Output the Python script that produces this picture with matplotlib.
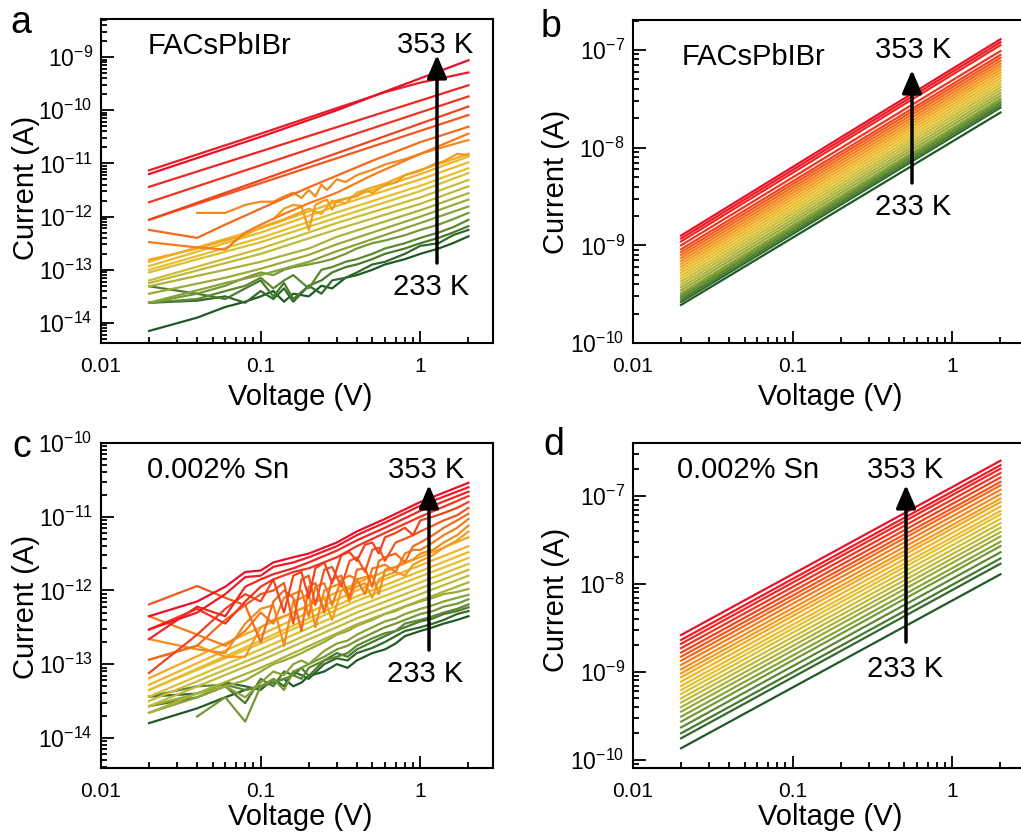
import numpy as np
import matplotlib
matplotlib.use("Agg")
import matplotlib.pyplot as plt
from matplotlib.colors import LinearSegmentedColormap
from matplotlib.ticker import LogLocator, NullFormatter, FuncFormatter, FixedLocator
from matplotlib.patches import FancyArrowPatch

plt.rcParams['font.family'] = ['Liberation Sans', 'DejaVu Sans']
plt.rcParams['mathtext.fontset'] = 'custom'
plt.rcParams['mathtext.rm'] = 'Liberation Sans'
plt.rcParams['mathtext.it'] = 'Liberation Sans:italic'
plt.rcParams['mathtext.bf'] = 'Liberation Sans:bold'

# temperatures, first entry = top curve (353 K), last = bottom curve (233 K)
temps = [353, 348, 343, 338, 333, 328, 323, 318, 313, 308, 303, 298, 293,
         288, 283, 278, 273, 268, 263, 258, 253, 248, 243, 238, 233]

# all currents below are stored as log10(I / A)
V_END = [0.02, 2.0]
V_RED = [0.02, 0.1, 0.3, 0.6, 1.0, 2.0]
V_YEL = [0.02, 0.1, 0.3, 1.0, 2.0]
V_YG = [0.02, 0.06, 0.1, 0.2, 0.3, 1.0, 2.0]
V_GN = [0.02, 0.04, 0.06, 0.08, 0.1, 0.12, 0.14, 0.16, 0.2, 0.24, 0.28, 0.34,
        0.4, 0.5, 0.6, 0.8, 1.0, 1.3, 1.6, 2.0]

# ---- panel a: FACsPbIBr, dark current
a_volts = [
    V_RED, V_RED, V_END, V_END, V_END, V_END,
    [0.02, 0.04, 0.06, 0.1, 0.2, 0.5, 1.0, 2.0],
    [0.02, 0.04, 0.06, 0.08, 0.1, 0.14, 0.2, 0.3, 0.5, 1.0, 2.0],
    [0.04, 0.06, 0.08, 0.1, 0.12, 0.14, 0.16, 0.18, 0.2, 0.22, 0.24, 0.26, 0.3,
     0.34, 0.4, 0.5, 0.6, 0.8, 1.0, 1.3, 1.6, 2.0],
    [0.12, 0.14, 0.16, 0.18, 0.2, 0.22, 0.24, 0.26, 0.28, 0.3, 0.34, 0.4, 0.46,
     0.5, 0.6, 0.7, 0.8, 1.0, 1.2, 1.4, 1.7, 2.0],
    [0.02, 0.04, 0.06, 0.08, 0.1, 0.14, 0.2, 0.24, 0.28, 0.34, 0.4, 0.5, 0.6,
     0.8, 1.0, 1.4, 2.0],
    V_YEL, V_YEL, V_YEL, V_YEL, V_YEL, V_YEL,
    V_YG, V_YG, V_YG,
    V_GN, V_GN, V_GN, V_GN, V_GN,
]
a_logI = [
    [-11.20, -10.50, -10.00, -9.65, -9.40, -9.06],
    [-11.13, -10.44, -9.96, -9.66, -9.48, -9.29],
    [-11.44, -9.53],
    [-11.73, -9.74],
    [-12.06, -9.93],
    [-12.06, -10.09],
    [-12.25, -12.40, -12.15, -11.85, -11.45, -10.95, -10.60, -10.31],
    [-12.48, -12.58, -12.62, -12.30, -12.15, -11.95, -11.75, -11.55, -11.22, -10.82, -10.44],
    [-11.93, -11.93, -11.78, -11.72, -11.72, -11.62, -11.55, -11.65, -11.50, -11.62, -11.40,
     -11.50, -11.30, -11.35, -11.22, -11.12, -11.02, -10.92, -10.82, -10.72, -10.64, -10.56],
    [-12.05, -11.85, -11.78, -11.80, -12.25, -11.78, -11.72, -11.68, -11.87, -11.70, -11.66,
     -11.62, -11.50, -11.56, -11.40, -11.36, -11.22, -11.14, -11.02, -10.96, -10.82, -10.84],
    [-12.81, -12.60, -12.45, -12.35, -12.20, -12.05, -11.85, -11.95, -11.70, -11.75, -11.55,
     -11.45, -11.38, -11.22, -11.12, -10.98, -10.82],
    [-12.85, -12.22, -11.72, -11.20, -10.87],
    [-12.93, -12.30, -11.80, -11.30, -10.98],
    [-13.00, -12.40, -11.92, -11.42, -11.09],
    [-13.05, -12.48, -12.02, -11.52, -11.18],
    [-13.20, -12.60, -12.12, -11.64, -11.31],
    [-13.25, -12.70, -12.24, -11.76, -11.43],
    [-13.31, -13.00, -12.85, -12.60, -12.38, -11.88, -11.56],
    [-13.45, -13.15, -12.98, -12.72, -12.52, -12.00, -11.68],
    [-13.62, -13.25, -13.10, -12.85, -12.65, -12.12, -11.81],
    [-13.62, -13.45, -13.30, -13.15, -13.05, -13.10, -13.00, -12.95, -12.90, -12.85,
     -12.80, -12.70, -12.60, -12.50, -12.45, -12.35, -12.25, -12.15, -12.05, -11.93],
    [-13.62, -13.55, -13.40, -13.30, -13.15, -13.35, -13.20, -13.10, -13.35, -13.00,
     -12.95, -12.85, -12.80, -12.70, -12.60, -12.50, -12.40, -12.30, -12.20, -12.06],
    [-13.31, -13.45, -13.55, -13.35, -13.20, -13.50, -13.25, -13.55, -13.30, -13.20,
     -13.05, -12.95, -12.90, -12.80, -12.70, -12.60, -12.50, -12.40, -12.30, -12.18],
    [-13.62, -13.58, -13.50, -13.62, -13.40, -13.55, -13.35, -13.60, -13.30, -13.45,
     -13.20, -13.15, -13.05, -12.90, -12.85, -12.70, -12.55, -12.50, -12.35, -12.25],
    [-14.15, -13.90, -13.70, -13.60, -13.50, -13.40, -13.60, -13.45, -13.50, -13.30,
     -13.35, -13.15, -13.10, -13.00, -12.90, -12.80, -12.70, -12.60, -12.50, -12.37],
]

# ---- panel b: FACsPbIBr, under light (straight lines, 0.02 V -> 2 V)
b_start = [-8.90, -8.93, -8.96, -9.00, -9.04, -9.07, -9.10, -9.13, -9.16, -9.19, -9.22,
           -9.25, -9.28, -9.31, -9.34, -9.37, -9.40, -9.43, -9.46, -9.49, -9.51, -9.53,
           -9.555, -9.58, -9.61]
b_end = [-6.89, -6.92, -6.95, -7.01, -7.05, -7.08, -7.11, -7.14, -7.17, -7.20, -7.23,
         -7.26, -7.29, -7.32, -7.35, -7.38, -7.41, -7.44, -7.47, -7.50, -7.52, -7.54,
         -7.565, -7.59, -7.64]

# ---- panel c: 0.002% Sn, dark current
V_CR = [0.02, 0.04, 0.06, 0.08, 0.1, 0.12, 0.16, 0.2, 0.3, 0.4, 0.6, 1.0, 2.0]
V_CO = [0.02, 0.04, 0.06, 0.08, 0.1, 0.12, 0.14, 0.16, 0.18, 0.2, 0.22, 0.25, 0.28,
        0.32, 0.36, 0.4, 0.45, 0.5, 0.55, 0.6, 0.7, 0.8, 0.9, 1.0, 1.2, 1.4, 1.7, 2.0]
V_CY = [0.02, 0.1, 0.4, 2.0]
V_CG = [0.02, 0.04, 0.06, 0.08, 0.1, 0.12, 0.14, 0.16, 0.18, 0.2, 0.25, 0.3, 0.35,
        0.4, 0.5, 0.6, 0.7, 0.8, 1.0, 1.2, 1.4, 1.7, 2.0]
c_volts = [V_CR] * 4 + [V_CO] * 6 + [V_CY] * 8 + [V_CG] * 7
c_logI = [
    [-12.35, -12.15, -11.95, -11.75, -11.73, -11.62, -11.55, -11.50, -11.35, -11.20, -11.03, -10.80, -10.54],
    [-12.53, -12.30, -12.05, -11.82, -11.80, -11.68, -11.62, -11.55, -11.40, -11.25, -11.08, -10.85, -10.60],
    [-12.66, -12.22, -12.35, -11.95, -11.85, -11.78, -11.70, -11.62, -11.46, -11.32, -11.15, -10.92, -10.66],
    [-12.53, -12.25, -12.45, -12.15, -11.95, -11.85, -11.75, -11.70, -11.55, -11.40, -11.22, -11.00, -10.72],
    [-13.12, -12.60, -12.25, -12.05, -12.15, -11.85, -12.30, -11.80, -11.75, -12.10, -11.70, -11.62, -11.90,
     -11.52, -11.48, -11.60, -11.38, -11.35, -11.50, -11.28, -11.22, -11.15, -11.25, -11.05, -11.00, -10.95,
     -10.88, -10.80],
    [-12.19, -11.94, -12.10, -12.20, -12.05, -12.00, -11.90, -12.45, -11.85, -11.80, -12.20, -11.72, -11.68,
     -11.95, -11.60, -11.55, -11.75, -11.45, -11.42, -11.60, -11.35, -11.30, -11.25, -11.20, -11.12, -11.05,
     -10.98, -10.88],
    [-12.94, -12.75, -12.40, -12.20, -12.70, -12.15, -12.00, -12.10, -12.55, -11.95, -11.90, -12.30, -11.85,
     -11.80, -12.10, -11.72, -11.70, -11.95, -11.60, -11.55, -11.50, -11.62, -11.40, -11.35, -11.25, -11.15,
     -11.05, -10.96],
    [-12.35, -12.60, -12.75, -12.55, -12.30, -12.45, -12.10, -12.05, -12.00, -12.35, -11.95, -11.90, -12.20,
     -11.85, -11.80, -11.85, -12.05, -11.70, -11.68, -11.65, -11.75, -11.50, -11.45, -11.45, -11.35, -11.25,
     -11.15, -11.03],
    [-12.66, -12.80, -12.85, -12.45, -12.25, -12.20, -12.75, -12.15, -12.10, -12.05, -12.50, -12.00, -11.95,
     -11.90, -12.15, -11.85, -11.82, -11.80, -12.05, -11.72, -11.68, -11.62, -11.58, -11.50, -11.45, -11.35,
     -11.25, -11.12],
    [-12.94, -12.75, -12.90, -12.90, -12.50, -12.40, -12.35, -12.30, -12.25, -12.20, -12.15, -12.10, -12.40,
     -12.00, -11.98, -11.95, -11.90, -12.10, -11.85, -11.80, -11.75, -11.80, -11.65, -11.60, -11.52, -11.42,
     -11.32, -11.20],
    [-13.19, -12.50, -11.90, -11.28],
    [-13.28, -12.60, -12.00, -11.40],
    [-13.35, -12.68, -12.08, -11.48],
    [-13.35, -12.72, -12.14, -11.56],
    [-13.44, -12.80, -12.22, -11.64],
    [-13.50, -12.88, -12.30, -11.72],
    [-13.57, -12.95, -12.38, -11.80],
    [-13.66, -13.05, -12.46, -11.89],
    [-13.57, -13.40, -13.30, -13.22, -13.10, -13.00, -12.95, -12.90, -12.85, -12.80, -12.70, -12.60,
     -12.55, -12.48, -12.40, -12.32, -12.28, -12.22, -12.15, -12.10, -12.05, -12.02, -11.98],
    [-13.66, -13.45, -13.30, -13.45, -13.25, -13.10, -13.15, -13.00, -12.95, -13.00, -12.82, -12.72,
     -12.68, -12.60, -12.50, -12.42, -12.38, -12.32, -12.25, -12.20, -12.15, -12.10, -12.06],
    [np.nan, -13.71, -13.45, -13.78, -13.30, -13.20, -13.35, -13.10, -13.05, -13.00, -12.90, -12.80,
     -12.75, -12.68, -12.58, -12.50, -12.45, -12.40, -12.32, -12.28, -12.22, -12.18, -12.12],
    [-13.44, -13.30, -13.28, -13.35, -13.30, -13.25, -13.20, -13.15, -13.20, -13.05, -12.95, -12.90,
     -12.85, -12.75, -12.65, -12.58, -12.55, -12.45, -12.40, -12.35, -12.30, -12.25, -12.19],
    [-13.57, -13.45, -13.30, -13.53, -13.20, -13.30, -13.10, -13.15, -13.05, -13.16, -12.95, -12.85,
     -12.90, -12.80, -12.70, -12.62, -12.55, -12.50, -12.42, -12.38, -12.32, -12.28, -12.23],
    [-13.44, -13.40, -13.25, -13.30, -13.35, -13.20, -13.30, -13.10, -13.15, -13.20, -13.00, -12.92,
     -12.95, -12.85, -12.78, -12.70, -12.62, -12.55, -12.50, -12.45, -12.40, -12.32, -12.28],
    [-13.80, -13.60, -13.45, -13.35, -13.30, -13.25, -13.20, -13.30, -13.25, -13.16, -13.10, -13.00,
     -13.05, -12.95, -12.85, -12.80, -12.72, -12.62, -12.55, -12.50, -12.45, -12.40, -12.35],
]

# ---- panel d: 0.002% Sn, under light
d_start = [-8.58, -8.636, -8.68, -8.73, -8.78, -8.826, -8.872, -8.92, -8.97, -9.015, -9.06,
           -9.11, -9.159, -9.205, -9.25, -9.30, -9.348, -9.40, -9.451, -9.508, -9.565, -9.63,
           -9.697, -9.754, -9.867]
d_end = [-6.60, -6.65, -6.69, -6.74, -6.79, -6.84, -6.88, -6.93, -6.98, -7.03, -7.07, -7.12,
         -7.17, -7.21, -7.26, -7.31, -7.36, -7.41, -7.46, -7.52, -7.57, -7.64, -7.71, -7.77, -7.89]

# decade ticks shown on each y axis
a_yticks = [1e-14, 1e-13, 1e-12, 1e-11, 1e-10, 1e-9]
b_yticks = [1e-10, 1e-9, 1e-8, 1e-7]
c_yticks = [1e-14, 1e-13, 1e-12, 1e-11, 1e-10]
d_yticks = [1e-10, 1e-9, 1e-8, 1e-7]

# colour ramp red (353 K) -> dark green (233 K)
cmap = LinearSegmentedColormap.from_list("temp", [
    (0.0, '#ea1028'), (0.15, '#f03c20'), (0.3, '#f4801c'), (0.45, '#f0b424'),
    (0.56, '#e2c234'), (0.68, '#b8b83a'), (0.82, '#7c9e38'), (1.0, '#1e5a26')])

W, H = 1021, 838
fig = plt.figure(figsize=(W / 100, H / 100), dpi=100)


def fx(px):
    return px / W


def fy(py):
    return 1 - py / H


def make_axes(l, t, r, b):
    return fig.add_axes([fx(l), fy(b), (r - l) / W, (b - t) / H])


def style(ax, ylim, yticks):
    ax.set_xscale('log')
    ax.set_yscale('log')
    ax.set_xlim(0.01, 2.85)
    ax.set_ylim(*ylim)
    ax.xaxis.set_major_locator(FixedLocator([0.01, 0.1, 1]))
    ax.xaxis.set_major_formatter(FuncFormatter(lambda v, _: {0.01: '0.01', 0.1: '0.1', 1: '1'}.get(round(v, 3), '')))
    ax.xaxis.set_minor_locator(LogLocator(base=10, subs=np.arange(2, 10), numticks=50))
    ax.xaxis.set_minor_formatter(NullFormatter())
    ax.yaxis.set_major_locator(FixedLocator(yticks))
    ax.yaxis.set_major_formatter(FuncFormatter(lambda v, _: r'$10^{%d}$' % round(np.log10(v))))
    ax.yaxis.set_minor_locator(LogLocator(base=10, subs=np.arange(2, 10), numticks=200))
    ax.yaxis.set_minor_formatter(NullFormatter())
    ax.tick_params(which='both', direction='in', top=False, right=False, width=1.3)
    ax.tick_params(which='major', length=9)
    ax.tick_params(which='minor', length=4.5)
    ax.tick_params(axis='x', pad=10, labelsize=15)
    ax.tick_params(axis='y', pad=6, labelsize=16.5)
    for s in ax.spines.values():
        s.set_linewidth(1.5)


def draw_lines(ax, volts, logi):
    n = len(logi)
    for i in range(n - 1, -1, -1):
        ax.plot(volts[i], 10 ** np.asarray(logi[i], float), color=cmap(i / (n - 1)), lw=1.6)


def arrow(x, y0, y1):
    fig.add_artist(FancyArrowPatch((fx(x), fy(y0)), (fx(x), fy(y1)), transform=fig.transFigure,
                                   arrowstyle='-|>,head_length=0.7,head_width=0.3', mutation_scale=20,
                                   lw=2.5, color='k', shrinkA=0, shrinkB=0))


def label(x, y, s, size=21):
    fig.text(fx(x), fy(y), s, fontsize=size, ha='left', va='baseline')


ax_a = make_axes(101, 19, 493, 343)
ax_b = make_axes(633, 20, 1025, 343)
ax_c = make_axes(101, 443, 493, 768)
ax_d = make_axes(633, 443, 1025, 768)

draw_lines(ax_a, a_volts, a_logI)
draw_lines(ax_b, [V_END] * len(b_start), [[s, e] for s, e in zip(b_start, b_end)])
draw_lines(ax_c, c_volts, c_logI)
draw_lines(ax_d, [V_END] * len(d_start), [[s, e] for s, e in zip(d_start, d_end)])

style(ax_a, (4.2e-15, 5.2e-9), a_yticks)
style(ax_b, (1e-10, 2.03e-7), b_yticks)
style(ax_c, (3.9e-15, 1e-10), c_yticks)
style(ax_d, (8.1e-11, 4e-7), d_yticks)

# axis titles
for cx, cy in [(26, 188), (26, 607), (556, 182), (556, 600)]:
    fig.text(fx(cx), fy(cy), 'Current (A)', fontsize=21, rotation=90, ha='center', va='center')
for cx, cy in [(300, 397), (830, 397), (300, 817), (830, 817)]:
    fig.text(fx(cx), fy(cy), 'Voltage (V)', fontsize=21, ha='center', va='center')

# panel letters
label(10, 33, 'a', 27)
label(541, 37, 'b', 27)
label(12, 457, 'c', 27)
label(543, 455, 'd', 27)

# sample names and temperature arrows
label(148, 54, 'FACsPbIBr')
label(682, 65, 'FACsPbIBr')
label(147, 478, '0.002% Sn')
label(677, 478, '0.002% Sn')

label(397, 53, '353 K')
label(393, 295, '233 K')
arrow(437, 263, 55)
label(875, 58, '353 K')
label(875, 215, '233 K')
arrow(912, 183, 70)
label(388, 478, '353 K')
label(387, 682, '233 K')
arrow(429, 650, 485)
label(867, 478, '353 K')
label(867, 677, '233 K')
arrow(906, 642, 485)

fig.savefig('out.png', dpi=100)
